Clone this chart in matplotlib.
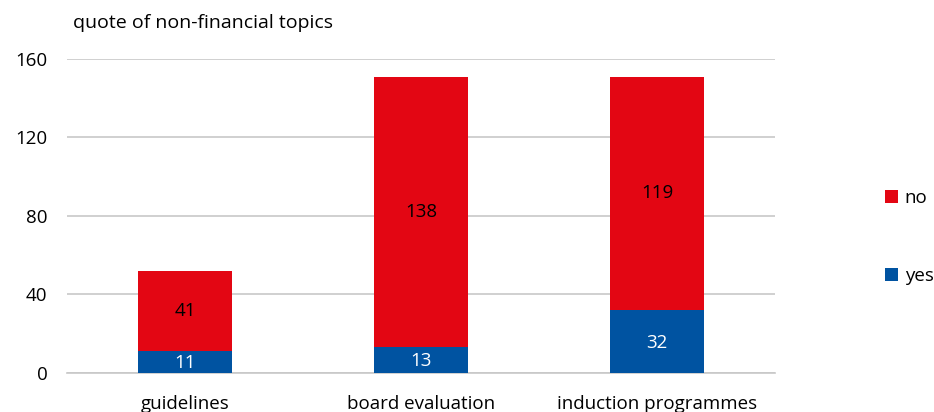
import matplotlib
matplotlib.use("Agg")
import matplotlib.pyplot as plt
import numpy as np

categories = ["guidelines", "board evaluation", "induction programmes"]
yes_vals = [11, 13, 32]
no_vals = [41, 138, 119]
yticks = [0, 40, 80, 120, 160]

RED = "#E30613"
BLUE = "#0053A1"
GRID = "#C8C8C8"
FS = 13.5

plt.rcParams['font.family'] = ['Open Sans', 'DejaVu Sans']
plt.rcParams['font.size'] = FS

fig = plt.figure(figsize=(9.34, 4.12), dpi=100)
ax = fig.add_axes([0.0717, 0.0947, 0.7583, 0.7623])

x = np.arange(len(categories))
b_yes = ax.bar(x, yes_vals, width=0.4, color=BLUE, label="yes", zorder=3)
b_no = ax.bar(x, no_vals, width=0.4, bottom=yes_vals, color=RED, label="no", zorder=3)

for rect, v in zip(b_yes, yes_vals):
    ax.text(rect.get_x() + rect.get_width() / 2, rect.get_y() + rect.get_height() / 2 - 0.5,
            str(v), ha="center", va="center", color="white", fontsize=FS)
for rect, v in zip(b_no, no_vals):
    ax.text(rect.get_x() + rect.get_width() / 2, rect.get_y() + rect.get_height() / 2,
            str(v), ha="center", va="center", color="black", fontsize=FS)

ax.set_xlim(-0.5, 2.5)
ax.set_ylim(0, 160)
ax.set_yticks(yticks)
ax.set_xticks(x)
ax.set_xticklabels(categories)
ax.yaxis.grid(True, color=GRID, linewidth=1.2, zorder=0)
for s in ["top", "right", "left"]:
    ax.spines[s].set_visible(False)
ax.spines["bottom"].set_color(GRID)
ax.spines["bottom"].set_linewidth(1.2)
ax.tick_params(axis="both", length=0, labelsize=FS)
ax.tick_params(axis="y", pad=14)
ax.tick_params(axis="x", pad=16)

fig.text(0.078, 0.945, "quote of non-financial topics", fontsize=14, ha="left", va="center")

handles = [b_no, b_yes]
leg = fig.legend(handles, ["no", "yes"], loc="center left", bbox_to_anchor=(0.939, 0.425),
                 frameon=False, handlelength=0.72, handleheight=0.72, handletextpad=0.35,
                 labelspacing=3.2, fontsize=FS, borderaxespad=0)

fig.savefig("out.png", dpi=100)
